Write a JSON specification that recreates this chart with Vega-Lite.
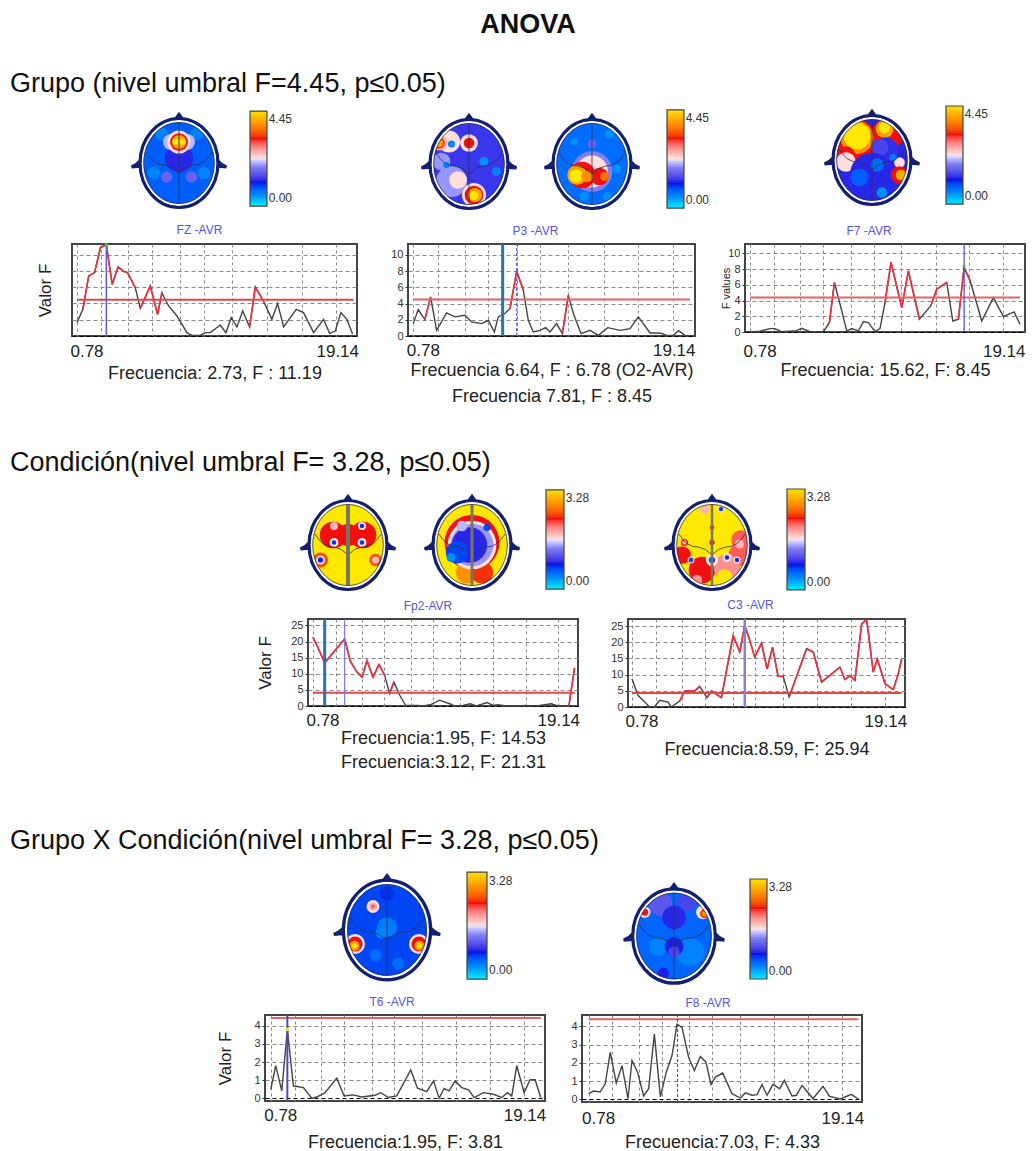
{"$schema":"https://vega.github.io/schema/vega-lite/v6.json","padding":0,"background":"white","spacing":0,
"config":{"font":"Liberation Sans","view":{"stroke":null},"legend":{"disable":true},
"axisX":{"tickSize":0,"domain":false,"labelFontSize":17,"labelColor":"#222","labelPadding":4,"titleFontSize":18,"titleFontWeight":"normal","titleColor":"#222","titlePadding":5,"titleLineHeight":24,"grid":true},
"axisY":{"tickSize":3,"tickColor":"#333","domain":false,"labelFontSize":11,"labelColor":"#333","labelPadding":2,"grid":true,"gridDash":[4,3],"titleFontWeight":"normal","titleColor":"#222","titleFontSize":17},
"title":{"color":"#111"}},
"resolve":{"scale":{"size":"independent","color":"independent"}},
"datasets":{
"p1":[{"hz":0.78,"val":1.64},{"hz":1.17,"val":3.28},{"hz":1.56,"val":7.38},{"hz":1.95,"val":7.79},{"hz":2.34,"val":10.86},{"hz":2.73,"val":11.19},{"hz":3.12,"val":6.35},{"hz":3.51,"val":8.48},{"hz":3.9,"val":7.91},{"hz":4.14,"val":7.79},{"hz":4.65,"val":5.94,"n":1},{"hz":4.98,"val":3.4},{"hz":5.65,"val":6.15},{"hz":6.13,"val":2.66},{"hz":6.42,"val":5.33,"n":1},{"hz":6.86,"val":3.69},{"hz":7.42,"val":2.46},{"hz":8.08,"val":0.41},{"hz":8.41,"val":0.08},{"hz":8.97,"val":0.08},{"hz":9.3,"val":0.41},{"hz":9.63,"val":0.41},{"hz":10.29,"val":1.35},{"hz":10.67,"val":0.41},{"hz":11.02,"val":2.25},{"hz":11.4,"val":1.11},{"hz":11.78,"val":3.07},{"hz":12.24,"val":1.11},{"hz":12.62,"val":6.02},{"hz":13.21,"val":4.1},{"hz":13.72,"val":2.05},{"hz":14.1,"val":3.98},{"hz":14.5,"val":1.11},{"hz":15.34,"val":3.28},{"hz":15.82,"val":2.87},{"hz":16.49,"val":0.41},{"hz":17.15,"val":2.05},{"hz":17.55,"val":0.33},{"hz":17.93,"val":0.61},{"hz":18.3,"val":2.87},{"hz":18.7,"val":2.05},{"hz":19.08,"val":0.2}],
"p2":[{"hz":0.78,"val":1.53},{"hz":1.11,"val":3.26},{"hz":1.55,"val":2.02},{"hz":1.93,"val":4.83,"n":1},{"hz":2.33,"val":0.7},{"hz":2.99,"val":2.85},{"hz":3.55,"val":2.36},{"hz":4.21,"val":2.56},{"hz":4.65,"val":1.74},{"hz":5.32,"val":1.53},{"hz":5.76,"val":1.94},{"hz":6.16,"val":0.5},{"hz":6.42,"val":2.36},{"hz":6.86,"val":2.77},{"hz":7.2,"val":3.39},{"hz":7.64,"val":8.0},{"hz":8.08,"val":5.66,"n":1},{"hz":8.41,"val":1.94},{"hz":8.74,"val":0.5},{"hz":9.19,"val":0.7},{"hz":9.56,"val":1.03},{"hz":9.85,"val":0.5},{"hz":10.29,"val":1.53},{"hz":10.67,"val":0.29},{"hz":11.07,"val":5.04,"n":1},{"hz":11.4,"val":2.77},{"hz":11.91,"val":0.29},{"hz":12.51,"val":0.7},{"hz":13.06,"val":0.08},{"hz":13.68,"val":1.03},{"hz":14.5,"val":0.7},{"hz":15.16,"val":0.91},{"hz":15.71,"val":2.36},{"hz":16.49,"val":0.37},{"hz":17.15,"val":0.37},{"hz":17.59,"val":0.08},{"hz":18.04,"val":0.08},{"hz":18.37,"val":0.66},{"hz":18.81,"val":0.08},{"hz":19.14,"val":0.04}],
"p3":[{"hz":0.78,"val":0},{"hz":1.46,"val":0.09},{"hz":2.14,"val":0.43},{"hz":2.48,"val":0.43},{"hz":2.93,"val":0.04},{"hz":3.95,"val":0.17},{"hz":4.29,"val":0.47},{"hz":4.86,"val":0.04},{"hz":5.77,"val":0.04},{"hz":6.18,"val":1.19},{"hz":6.52,"val":6.3,"n":1},{"hz":7.02,"val":2.68},{"hz":7.36,"val":0.13},{"hz":7.7,"val":0.43},{"hz":8.15,"val":0.13},{"hz":8.49,"val":1.32},{"hz":8.83,"val":1.19},{"hz":9.28,"val":0.04},{"hz":9.62,"val":0.43},{"hz":9.96,"val":3.74},{"hz":10.37,"val":8.85},{"hz":11.1,"val":3.11},{"hz":11.55,"val":7.79},{"hz":12.3,"val":1.62},{"hz":13.07,"val":3.32},{"hz":13.48,"val":5.45},{"hz":14.16,"val":6.3,"n":1},{"hz":14.57,"val":1.4},{"hz":14.95,"val":1.62},{"hz":15.34,"val":8.21},{"hz":15.75,"val":6.51,"n":1},{"hz":16.54,"val":1.4},{"hz":17.33,"val":4.38},{"hz":18.01,"val":1.96},{"hz":18.74,"val":2.55},{"hz":19.14,"val":0.98}],
"p4":[{"hz":0.78,"val":21.3},{"hz":1.13,"val":18.1},{"hz":1.6,"val":13.4},{"hz":3.0,"val":20.8},{"hz":3.4,"val":13.9},{"hz":3.82,"val":10.8},{"hz":4.22,"val":8.9},{"hz":4.57,"val":14.1},{"hz":4.99,"val":8.9},{"hz":5.41,"val":12.9},{"hz":5.81,"val":9.5,"n":1},{"hz":6.16,"val":3.9},{"hz":6.46,"val":7.4,"n":1},{"hz":6.86,"val":3.4,"n":1},{"hz":7.28,"val":0.2},{"hz":8.15,"val":0.2},{"hz":8.5,"val":0},{"hz":9.08,"val":0.5},{"hz":9.67,"val":1.8},{"hz":10.37,"val":0.7},{"hz":10.72,"val":0},{"hz":11.3,"val":0.2},{"hz":11.82,"val":0.7},{"hz":12.24,"val":0},{"hz":12.99,"val":1.05},{"hz":13.41,"val":0.2},{"hz":13.76,"val":0.4},{"hz":14.34,"val":0},{"hz":15.28,"val":0},{"hz":15.63,"val":0.2},{"hz":15.98,"val":0},{"hz":16.68,"val":0.2},{"hz":17.5,"val":0.7},{"hz":17.97,"val":0},{"hz":18.74,"val":0},{"hz":19.14,"val":11.8}],
"p5":[{"hz":0.78,"val":8.74,"n":1},{"hz":1.19,"val":3.6},{"hz":1.53,"val":2.06},{"hz":1.98,"val":0},{"hz":2.33,"val":0.2},{"hz":2.67,"val":2.06},{"hz":3.23,"val":1.54},{"hz":3.46,"val":0},{"hz":4.03,"val":1.85},{"hz":4.37,"val":4.94},{"hz":5.05,"val":4.94},{"hz":5.39,"val":6.38,"n":1},{"hz":5.89,"val":2.88},{"hz":6.19,"val":4.94},{"hz":6.87,"val":2.88},{"hz":7.67,"val":22.1},{"hz":8.12,"val":17},{"hz":8.46,"val":25.2},{"hz":8.8,"val":20.6},{"hz":9.14,"val":15.4},{"hz":9.6,"val":19.75},{"hz":9.98,"val":11.8},{"hz":10.35,"val":18.5},{"hz":10.73,"val":9.47},{"hz":11.08,"val":9.47,"n":1},{"hz":11.48,"val":3.09},{"hz":12.67,"val":18},{"hz":13.12,"val":17},{"hz":13.69,"val":7.7},{"hz":14.94,"val":12.35},{"hz":15.28,"val":8.44},{"hz":15.62,"val":9.77},{"hz":15.96,"val":8.23},{"hz":16.42,"val":25.7},{"hz":16.76,"val":27},{"hz":17.21,"val":10.8},{"hz":17.48,"val":14.9},{"hz":18.01,"val":7.2},{"hz":18.57,"val":5.35},{"hz":18.92,"val":10.3},{"hz":19.14,"val":14.9}],
"p6":[{"hz":0.78,"val":0.5},{"hz":1.12,"val":1.8},{"hz":1.53,"val":0.41},{"hz":1.91,"val":3.81},{"hz":2.32,"val":0.69},{"hz":3.0,"val":0.59},{"hz":3.57,"val":0},{"hz":3.91,"val":0.07},{"hz":4.48,"val":0.31},{"hz":5.27,"val":1.11},{"hz":5.77,"val":0.13},{"hz":6.4,"val":0.19},{"hz":6.97,"val":0.07},{"hz":7.88,"val":0.17},{"hz":8.26,"val":0.31},{"hz":8.78,"val":0.04},{"hz":9.35,"val":0.13},{"hz":10.3,"val":1.56},{"hz":10.76,"val":0.56},{"hz":11.39,"val":0.37},{"hz":11.85,"val":0.96},{"hz":12.23,"val":0},{"hz":12.57,"val":0.54},{"hz":12.91,"val":0.41},{"hz":13.32,"val":0.96},{"hz":13.77,"val":0.59},{"hz":14.23,"val":0.46},{"hz":14.61,"val":0.04},{"hz":15.25,"val":0.31},{"hz":15.93,"val":0.22},{"hz":16.49,"val":0.04},{"hz":16.88,"val":0.31},{"hz":17.17,"val":0.13},{"hz":17.51,"val":1.8},{"hz":18.01,"val":0.31},{"hz":18.42,"val":1.02},{"hz":18.76,"val":1.02},{"hz":19.14,"val":0.04}],
"p7":[{"hz":0.78,"val":0.31},{"hz":1.12,"val":0.45},{"hz":1.57,"val":0.4},{"hz":1.91,"val":0.85},{"hz":2.25,"val":2.58},{"hz":2.66,"val":0.89},{"hz":3.05,"val":1.85},{"hz":3.46,"val":0.04},{"hz":3.73,"val":2.13},{"hz":4.11,"val":1.49},{"hz":4.52,"val":0.18},{"hz":4.86,"val":0.58},{"hz":5.25,"val":3.58},{"hz":5.66,"val":0.13},{"hz":6.06,"val":1.49},{"hz":6.45,"val":2.4},{"hz":6.79,"val":4.13},{"hz":7.13,"val":3.95},{"hz":7.58,"val":2.31},{"hz":7.97,"val":1.58},{"hz":8.38,"val":2.35},{"hz":8.76,"val":2.04},{"hz":9.1,"val":0.82},{"hz":9.4,"val":1.22},{"hz":9.9,"val":1.44},{"hz":10.53,"val":0.31},{"hz":11.1,"val":0.07},{"hz":11.44,"val":0.35},{"hz":11.89,"val":0.22},{"hz":12.23,"val":0.25},{"hz":12.57,"val":0.8},{"hz":12.91,"val":0.22},{"hz":13.32,"val":0.82},{"hz":13.77,"val":0.58},{"hz":14.09,"val":1.04},{"hz":14.61,"val":0.18},{"hz":14.91,"val":0.22},{"hz":15.29,"val":0.76},{"hz":16.04,"val":0.04},{"hz":16.72,"val":0.71},{"hz":17.17,"val":0.16},{"hz":17.9,"val":0.02},{"hz":18.65,"val":0.27},{"hz":19.14,"val":0}],
"bar":[{"a":0,"b":0.03},{"a":0.02,"b":0.05},{"a":0.04,"b":0.07},{"a":0.06,"b":0.09},{"a":0.08,"b":0.11},{"a":0.1,"b":0.13},{"a":0.12,"b":0.15},{"a":0.14,"b":0.17},{"a":0.16,"b":0.19},{"a":0.18,"b":0.21},{"a":0.2,"b":0.23},{"a":0.22,"b":0.25},{"a":0.24,"b":0.27},{"a":0.26,"b":0.29},{"a":0.28,"b":0.31},{"a":0.3,"b":0.33},{"a":0.32,"b":0.35},{"a":0.34,"b":0.37},{"a":0.36,"b":0.39},{"a":0.38,"b":0.41},{"a":0.4,"b":0.43},{"a":0.42,"b":0.45},{"a":0.44,"b":0.47},{"a":0.46,"b":0.49},{"a":0.48,"b":0.51},{"a":0.5,"b":0.53},{"a":0.52,"b":0.55},{"a":0.54,"b":0.57},{"a":0.56,"b":0.59},{"a":0.58,"b":0.61},{"a":0.6,"b":0.63},{"a":0.62,"b":0.65},{"a":0.64,"b":0.67},{"a":0.66,"b":0.69},{"a":0.68,"b":0.71},{"a":0.7,"b":0.73},{"a":0.72,"b":0.75},{"a":0.74,"b":0.77},{"a":0.76,"b":0.79},{"a":0.78,"b":0.81},{"a":0.8,"b":0.83},{"a":0.82,"b":0.85},{"a":0.84,"b":0.87},{"a":0.86,"b":0.89},{"a":0.88,"b":0.91},{"a":0.9,"b":0.93},{"a":0.92,"b":0.95},{"a":0.94,"b":0.97},{"a":0.96,"b":0.99},{"a":0.98,"b":1}],
"head":[{"x":0,"y":0}],
"m1":[{"x":0,"y":0,"r":1,"v":0.17},{"x":0,"y":-0.1,"r":0.32,"v":0.26},{"x":-0.35,"y":-0.58,"r":0.14,"v":0.12},{"x":0.35,"y":-0.58,"r":0.14,"v":0.12},{"x":-0.5,"y":0.2,"r":0.14,"v":0.12},{"x":0.5,"y":0.2,"r":0.14,"v":0.12},{"x":-0.25,"y":0.28,"r":0.13,"v":0.35},{"x":0.25,"y":0.28,"r":0.13,"v":0.35},{"x":-0.16,"y":-0.42,"r":0.18,"v":0.45},{"x":0.16,"y":-0.42,"r":0.18,"v":0.45},{"x":0,"y":-0.42,"r":0.26,"v":0.5},{"x":0,"y":-0.42,"r":0.2,"v":0.7},{"x":0,"y":-0.42,"r":0.16,"v":0.88},{"x":-0.07,"y":-0.43,"r":0.07,"v":1},{"x":0.07,"y":-0.43,"r":0.07,"v":1}],
"m2":[{"x":0,"y":0,"r":1,"v":0.28},{"x":-0.35,"y":0.35,"r":0.35,"v":0.42},{"x":-0.22,"y":0.32,"r":0.2,"v":0.5},{"x":-0.55,"y":-0.05,"r":0.2,"v":0.42},{"x":-0.4,"y":-0.45,"r":0.25,"v":0.5},{"x":-0.58,"y":-0.42,"r":0.17,"v":0.56},{"x":-0.6,"y":-0.42,"r":0.13,"v":0.72},{"x":-0.6,"y":-0.42,"r":0.09,"v":0.88},{"x":-0.35,"y":-0.4,"r":0.08,"v":0.12},{"x":0,"y":-0.42,"r":0.2,"v":0.5},{"x":0,"y":-0.42,"r":0.12,"v":0.7},{"x":0.3,"y":-0.05,"r":0.1,"v":0.1},{"x":0.55,"y":0.15,"r":0.1,"v":0.12},{"x":-0.45,"y":0.02,"r":0.07,"v":0.12},{"x":0.1,"y":0.62,"r":0.27,"v":0.5},{"x":0.1,"y":0.62,"r":0.21,"v":0.7},{"x":0.12,"y":0.62,"r":0.16,"v":0.88},{"x":0.1,"y":0.63,"r":0.1,"v":1}],
"m3":[{"x":0,"y":0,"r":1,"v":0.15},{"x":0,"y":0.15,"r":0.46,"v":0.4},{"x":0,"y":0.15,"r":0.36,"v":0.5},{"x":-0.2,"y":0.22,"r":0.3,"v":0.7},{"x":0.15,"y":0.25,"r":0.2,"v":0.7},{"x":-0.3,"y":0.22,"r":0.22,"v":0.88},{"x":-0.32,"y":0.24,"r":0.15,"v":1},{"x":-0.1,"y":0.25,"r":0.13,"v":0.85},{"x":0.25,"y":0.25,"r":0.1,"v":0.8},{"x":-0.35,"y":-0.45,"r":0.08,"v":0.1},{"x":0.3,"y":0.65,"r":0.1,"v":0.1},{"x":-0.15,"y":0.65,"r":0.1,"v":0.1},{"x":0.5,"y":0.1,"r":0.1,"v":0.1},{"x":0,"y":-0.4,"r":0.1,"v":0.35},{"x":0.35,"y":-0.6,"r":0.1,"v":0.1}],
"m4":[{"x":0,"y":0,"r":1,"v":0.26},{"x":-0.3,"y":-0.4,"r":0.46,"v":0.7},{"x":0.3,"y":-0.5,"r":0.36,"v":0.7},{"x":-0.3,"y":-0.45,"r":0.37,"v":0.85},{"x":-0.3,"y":-0.48,"r":0.3,"v":1},{"x":0.25,"y":-0.62,"r":0.2,"v":0.88},{"x":0.25,"y":-0.65,"r":0.13,"v":1},{"x":-0.52,"y":-0.1,"r":0.2,"v":0.7},{"x":-0.52,"y":0.04,"r":0.22,"v":0.5},{"x":0.28,"y":-0.2,"r":0.28,"v":0.27},{"x":0.15,"y":-0.25,"r":0.2,"v":0.3},{"x":0,"y":0.3,"r":0.5,"v":0.26},{"x":-0.25,"y":0.35,"r":0.2,"v":0.17},{"x":0.1,"y":0.1,"r":0.15,"v":0.15},{"x":0.2,"y":0.65,"r":0.12,"v":0.1},{"x":0.55,"y":0.05,"r":0.12,"v":0.5},{"x":0.55,"y":0.3,"r":0.2,"v":0.7},{"x":0.58,"y":0.3,"r":0.12,"v":0.9},{"x":0.42,"y":-0.05,"r":0.08,"v":0.13}],
"m5":[{"x":0,"y":0,"r":1,"v":1},{"x":-0.3,"y":-0.2,"r":0.3,"v":0.7},{"x":0.3,"y":-0.2,"r":0.3,"v":0.7},{"x":0,"y":-0.2,"r":0.25,"v":0.7},{"x":-0.28,"y":-0.38,"r":0.09,"v":0.55},{"x":0.28,"y":-0.38,"r":0.09,"v":0.5},{"x":0.28,"y":-0.38,"r":0.05,"v":0.22},{"x":-0.28,"y":-0.05,"r":0.1,"v":0.5},{"x":-0.28,"y":-0.05,"r":0.05,"v":0.22},{"x":0.28,"y":-0.05,"r":0.1,"v":0.5},{"x":0.28,"y":-0.05,"r":0.05,"v":0.22},{"x":-0.55,"y":0.3,"r":0.17,"v":0.75},{"x":-0.55,"y":0.3,"r":0.1,"v":0.5},{"x":-0.55,"y":0.3,"r":0.06,"v":0.22},{"x":0.55,"y":0.3,"r":0.14,"v":0.75},{"x":0.55,"y":0.3,"r":0.08,"v":0.55}],
"m6":[{"x":0,"y":0,"r":1,"v":1},{"x":0,"y":-0.05,"r":0.62,"v":0.7},{"x":-0.1,"y":0.55,"r":0.25,"v":0.85},{"x":0.2,"y":0.55,"r":0.25,"v":0.72},{"x":0,"y":0,"r":0.55,"v":0.5},{"x":0,"y":0,"r":0.48,"v":0.42},{"x":-0.05,"y":0,"r":0.4,"v":0.26},{"x":-0.3,"y":0.15,"r":0.25,"v":0.2},{"x":-0.42,"y":0.25,"r":0.1,"v":0.1},{"x":0.3,"y":-0.35,"r":0.08,"v":0.2},{"x":-0.2,"y":-0.38,"r":0.12,"v":0.45}],
"m7":[{"x":0,"y":0,"r":1,"v":1},{"x":0.58,"y":-0.1,"r":0.22,"v":0.65},{"x":0.55,"y":0.2,"r":0.25,"v":0.65},{"x":-0.6,"y":0.2,"r":0.2,"v":0.7},{"x":-0.2,"y":0.5,"r":0.3,"v":0.7},{"x":0.3,"y":0.45,"r":0.3,"v":0.6},{"x":0.25,"y":0.65,"r":0.18,"v":1},{"x":-0.3,"y":0.7,"r":0.12,"v":0.6},{"x":-0.42,"y":0.3,"r":0.08,"v":0.55},{"x":-0.42,"y":0.3,"r":0.05,"v":0.2},{"x":0,"y":0.3,"r":0.14,"v":0.5},{"x":0,"y":0.3,"r":0.07,"v":0.2},{"x":0.3,"y":0.25,"r":0.1,"v":0.5},{"x":0.3,"y":0.25,"r":0.05,"v":0.22},{"x":0.5,"y":0.3,"r":0.08,"v":0.5},{"x":0.5,"y":0.3,"r":0.05,"v":0.22},{"x":-0.15,"y":-0.72,"r":0.1,"v":0.55},{"x":0.18,"y":-0.72,"r":0.08,"v":0.5},{"x":0.18,"y":-0.72,"r":0.05,"v":0.2},{"x":0,"y":-0.35,"r":0.05,"v":0.7},{"x":0,"y":-0.05,"r":0.06,"v":0.7},{"x":-0.55,"y":-0.05,"r":0.08,"v":0.7},{"x":-0.55,"y":-0.05,"r":0.05,"v":0.55},{"x":0.55,"y":-0.02,"r":0.1,"v":0.55}],
"m8":[{"x":0,"y":0,"r":1,"v":0.2},{"x":-0.25,"y":-0.42,"r":0.13,"v":0.5},{"x":-0.25,"y":-0.42,"r":0.08,"v":0.56},{"x":-0.25,"y":-0.42,"r":0.04,"v":0.65},{"x":0,"y":-0.05,"r":0.2,"v":0.13},{"x":-0.1,"y":0.05,"r":0.12,"v":0.12},{"x":0,"y":-0.65,"r":0.15,"v":0.22},{"x":0.2,"y":0.6,"r":0.12,"v":0.15},{"x":-0.2,"y":0.45,"r":0.12,"v":0.15},{"x":-0.57,"y":0.25,"r":0.2,"v":0.5},{"x":-0.57,"y":0.25,"r":0.15,"v":0.7},{"x":-0.58,"y":0.28,"r":0.1,"v":0.88},{"x":-0.58,"y":0.28,"r":0.05,"v":1},{"x":0.57,"y":0.25,"r":0.2,"v":0.5},{"x":0.57,"y":0.25,"r":0.15,"v":0.7},{"x":0.58,"y":0.28,"r":0.1,"v":0.88},{"x":0.58,"y":0.28,"r":0.05,"v":1}],
"m9":[{"x":0,"y":0,"r":1,"v":0.16},{"x":-0.25,"y":-0.6,"r":0.25,"v":0.33},{"x":0.25,"y":-0.65,"r":0.2,"v":0.3},{"x":-0.55,"y":-0.45,"r":0.12,"v":0.5},{"x":-0.55,"y":-0.45,"r":0.07,"v":0.7},{"x":0.55,"y":-0.45,"r":0.15,"v":0.5},{"x":0.58,"y":-0.42,"r":0.1,"v":0.72},{"x":0.58,"y":-0.42,"r":0.06,"v":0.88},{"x":0,"y":-0.35,"r":0.25,"v":0.26},{"x":0.3,"y":0.3,"r":0.3,"v":0.12},{"x":-0.3,"y":0.2,"r":0.2,"v":0.12},{"x":0,"y":0.2,"r":0.2,"v":0.25},{"x":0,"y":0.3,"r":0.12,"v":0.3},{"x":-0.2,"y":0.7,"r":0.12,"v":0.25}]
},
"vconcat":[
{"width":1,"height":11,"data":{"values":[{}]},"mark":{"type":"point","opacity":0,"size":0},"encoding":{}},
{"width":1036,"height":1,"title":{"text":"ANOVA","anchor":"middle","fontSize":27,"fontWeight":"bold","offset":0,"dx":10},"data":{"values":[{}]},"mark":{"type":"point","opacity":0,"size":0},"encoding":{}},
{"width":1,"height":30,"data":{"values":[{}]},"mark":{"type":"point","opacity":0,"size":0},"encoding":{}},
{"width":1030,"height":1,"title":{"text":"Grupo (nivel umbral F=4.45, p≤0.05)","anchor":"start","fontSize":27,"fontWeight":"normal","dx":10,"offset":0},"data":{"values":[{}]},"mark":{"type":"point","opacity":0,"size":0},"encoding":{}},
{"width":1,"height":6,"data":{"values":[{}]},"mark":{"type":"point","opacity":0,"size":0},"encoding":{}},
{"hconcat":[
{"width":129,"height":1,"data":{"values":[{}]},"mark":{"type":"point","opacity":0,"size":0},"encoding":{}},
{"width":100,"height":110,"encoding":{"x":{"field":"x","type":"quantitative","scale":{"domain":[-1,1]},"axis":null},"y":{"field":"y","type":"quantitative","scale":{"domain":[1.06,-1.14]},"axis":null}},"layer":[
{"data":{"name":"m1"},"mark":{"type":"point","filled":true,"opacity":1,"clip":true},"encoding":{"size":{"field":"r","type":"quantitative","scale":{"type":"pow","exponent":2,"domain":[0,1],"range":[0,7854]}},"color":{"field":"v","type":"quantitative","scale":{"domain":[0,0.1,0.24,0.4,0.5,0.6,0.7,0.85,1],"range":["#00e5ff","#0090ff","#0a14e6","#8080f0","#ffffff","#ff9090","#f01010","#ff9000","#ffe800"]}}}},
{"data":{"name":"head"},"mark":{"type":"point","shape":"M-1.3,-1.3H1.3V1.3H-1.3ZM0,-0.89A0.78,0.89,0,0,0,0,0.89A0.78,0.89,0,0,0,0,-0.89Z","filled":true,"color":"#ffffff","opacity":1,"size":10000,"clip":true}},
{"data":{"name":"head"},"mark":{"type":"point","shape":"M0,-0.84A0.735,0.84,0,0,1,0,0.84A0.735,0.84,0,0,1,0,-0.84Z","filled":false,"color":"#ffffff","strokeWidth":2.5,"opacity":1,"size":10000}},
{"data":{"name":"head"},"mark":{"type":"point","shape":"M0,-0.81A0.705,0.81,0,0,1,0,0.81A0.705,0.81,0,0,1,0,-0.81ZM0,-0.81V0.81M-0.66,-0.22Q-0.5,0.05,-0.28,0.04Q-0.12,0.06,0,0.2Q0.12,0.06,0.28,0.04Q0.5,0.05,0.66,-0.22","filled":false,"color":"#2a3050","strokeWidth":0.8,"opacity":1,"size":10000}},
{"data":{"name":"head"},"mark":{"type":"point","shape":"M0,-0.89A0.78,0.89,0,0,1,0,0.89A0.78,0.89,0,0,1,0,-0.89ZM-0.06,-0.89L0,-0.97L0.06,-0.89M-0.76,-0.06Q-0.84,0.04,-0.95,0.08Q-0.84,0.07,-0.75,0.06M0.76,-0.06Q0.84,0.04,0.95,0.08Q0.84,0.07,0.75,0.06","filled":false,"color":"#14206e","strokeWidth":3.2,"opacity":1,"size":10000}}
]},
{"width":21,"height":1,"data":{"values":[{}]},"mark":{"type":"point","opacity":0,"size":0},"encoding":{}},
{"width":45,"height":110,"encoding":{"y":{"field":"a","type":"quantitative","scale":{"domain":[-0.105,1.053]},"axis":null},"x":{"datum":0,"type":"quantitative","scale":{"domain":[0,2.65]},"axis":null}},"layer":[
{"data":{"name":"bar"},"mark":{"type":"rect"},"encoding":{"x2":{"datum":1},"y2":{"field":"b"},"color":{"field":"a","type":"quantitative","scale":{"domain":[0,0.1,0.24,0.4,0.5,0.6,0.7,0.85,1],"range":["#00e5ff","#0090ff","#0a14e6","#8080f0","#ffffff","#ff9090","#f01010","#ff9000","#ffe800"]}}}},
{"data":{"values":[{"a":0,"b":1}]},"mark":{"type":"rect","filled":false,"stroke":"#444","strokeWidth":1.2},"encoding":{"x2":{"datum":1},"y2":{"field":"b"}}},
{"data":{"values":[{"lab":"4.45","a":0.92},{"lab":"0.00","a":0.08}]},"mark":{"type":"text","align":"left","baseline":"middle","fontSize":12,"color":"#333"},"encoding":{"x":{"datum":1.1,"type":"quantitative"},"text":{"field":"lab"}}}
]},
{"width":124,"height":1,"data":{"values":[{}]},"mark":{"type":"point","opacity":0,"size":0},"encoding":{}},
{"width":100,"height":110,"encoding":{"x":{"field":"x","type":"quantitative","scale":{"domain":[-1,1]},"axis":null},"y":{"field":"y","type":"quantitative","scale":{"domain":[1.04,-1.16]},"axis":null}},"layer":[
{"data":{"name":"m2"},"mark":{"type":"point","filled":true,"opacity":1,"clip":true},"encoding":{"size":{"field":"r","type":"quantitative","scale":{"type":"pow","exponent":2,"domain":[0,1],"range":[0,7854]}},"color":{"field":"v","type":"quantitative","scale":{"domain":[0,0.1,0.24,0.4,0.5,0.6,0.7,0.85,1],"range":["#00e5ff","#0090ff","#0a14e6","#8080f0","#ffffff","#ff9090","#f01010","#ff9000","#ffe800"]}}}},
{"data":{"name":"head"},"mark":{"type":"point","shape":"M-1.3,-1.3H1.3V1.3H-1.3ZM0,-0.89A0.78,0.89,0,0,0,0,0.89A0.78,0.89,0,0,0,0,-0.89Z","filled":true,"color":"#ffffff","opacity":1,"size":10000,"clip":true}},
{"data":{"name":"head"},"mark":{"type":"point","shape":"M0,-0.84A0.735,0.84,0,0,1,0,0.84A0.735,0.84,0,0,1,0,-0.84Z","filled":false,"color":"#ffffff","strokeWidth":2.5,"opacity":1,"size":10000}},
{"data":{"name":"head"},"mark":{"type":"point","shape":"M0,-0.81A0.705,0.81,0,0,1,0,0.81A0.705,0.81,0,0,1,0,-0.81ZM0,-0.81V0.81M-0.66,-0.22Q-0.5,0.05,-0.28,0.04Q-0.12,0.06,0,0.2Q0.12,0.06,0.28,0.04Q0.5,0.05,0.66,-0.22","filled":false,"color":"#2a3050","strokeWidth":0.8,"opacity":1,"size":10000}},
{"data":{"name":"head"},"mark":{"type":"point","shape":"M0,-0.89A0.78,0.89,0,0,1,0,0.89A0.78,0.89,0,0,1,0,-0.89ZM-0.06,-0.89L0,-0.97L0.06,-0.89M-0.76,-0.06Q-0.84,0.04,-0.95,0.08Q-0.84,0.07,-0.75,0.06M0.76,-0.06Q0.84,0.04,0.95,0.08Q0.84,0.07,0.75,0.06","filled":false,"color":"#14206e","strokeWidth":3.2,"opacity":1,"size":10000}}
]},
{"width":23,"height":1,"data":{"values":[{}]},"mark":{"type":"point","opacity":0,"size":0},"encoding":{}},
{"width":100,"height":110,"encoding":{"x":{"field":"x","type":"quantitative","scale":{"domain":[-1,1]},"axis":null},"y":{"field":"y","type":"quantitative","scale":{"domain":[1.04,-1.16]},"axis":null}},"layer":[
{"data":{"name":"m3"},"mark":{"type":"point","filled":true,"opacity":1,"clip":true},"encoding":{"size":{"field":"r","type":"quantitative","scale":{"type":"pow","exponent":2,"domain":[0,1],"range":[0,7854]}},"color":{"field":"v","type":"quantitative","scale":{"domain":[0,0.1,0.24,0.4,0.5,0.6,0.7,0.85,1],"range":["#00e5ff","#0090ff","#0a14e6","#8080f0","#ffffff","#ff9090","#f01010","#ff9000","#ffe800"]}}}},
{"data":{"name":"head"},"mark":{"type":"point","shape":"M-1.3,-1.3H1.3V1.3H-1.3ZM0,-0.89A0.78,0.89,0,0,0,0,0.89A0.78,0.89,0,0,0,0,-0.89Z","filled":true,"color":"#ffffff","opacity":1,"size":10000,"clip":true}},
{"data":{"name":"head"},"mark":{"type":"point","shape":"M0,-0.84A0.735,0.84,0,0,1,0,0.84A0.735,0.84,0,0,1,0,-0.84Z","filled":false,"color":"#ffffff","strokeWidth":2.5,"opacity":1,"size":10000}},
{"data":{"name":"head"},"mark":{"type":"point","shape":"M0,-0.81A0.705,0.81,0,0,1,0,0.81A0.705,0.81,0,0,1,0,-0.81ZM0,-0.81V0.81M-0.66,-0.22Q-0.5,0.05,-0.28,0.04Q-0.12,0.06,0,0.2Q0.12,0.06,0.28,0.04Q0.5,0.05,0.66,-0.22","filled":false,"color":"#2a3050","strokeWidth":0.8,"opacity":1,"size":10000}},
{"data":{"name":"head"},"mark":{"type":"point","shape":"M0,-0.89A0.78,0.89,0,0,1,0,0.89A0.78,0.89,0,0,1,0,-0.89ZM-0.06,-0.89L0,-0.97L0.06,-0.89M-0.76,-0.06Q-0.84,0.04,-0.95,0.08Q-0.84,0.07,-0.75,0.06M0.76,-0.06Q0.84,0.04,0.95,0.08Q0.84,0.07,0.75,0.06","filled":false,"color":"#14206e","strokeWidth":3.2,"opacity":1,"size":10000}}
]},
{"width":25,"height":1,"data":{"values":[{}]},"mark":{"type":"point","opacity":0,"size":0},"encoding":{}},
{"width":45,"height":110,"encoding":{"y":{"field":"a","type":"quantitative","scale":{"domain":[-0.08,1.04]},"axis":null},"x":{"datum":0,"type":"quantitative","scale":{"domain":[0,2.65]},"axis":null}},"layer":[
{"data":{"name":"bar"},"mark":{"type":"rect"},"encoding":{"x2":{"datum":1},"y2":{"field":"b"},"color":{"field":"a","type":"quantitative","scale":{"domain":[0,0.1,0.24,0.4,0.5,0.6,0.7,0.85,1],"range":["#00e5ff","#0090ff","#0a14e6","#8080f0","#ffffff","#ff9090","#f01010","#ff9000","#ffe800"]}}}},
{"data":{"values":[{"a":0,"b":1}]},"mark":{"type":"rect","filled":false,"stroke":"#444","strokeWidth":1.2},"encoding":{"x2":{"datum":1},"y2":{"field":"b"}}},
{"data":{"values":[{"lab":"4.45","a":0.92},{"lab":"0.00","a":0.08}]},"mark":{"type":"text","align":"left","baseline":"middle","fontSize":12,"color":"#333"},"encoding":{"x":{"datum":1.1,"type":"quantitative"},"text":{"field":"lab"}}}
]},
{"width":110,"height":1,"data":{"values":[{}]},"mark":{"type":"point","opacity":0,"size":0},"encoding":{}},
{"width":100,"height":110,"encoding":{"x":{"field":"x","type":"quantitative","scale":{"domain":[-1,1]},"axis":null},"y":{"field":"y","type":"quantitative","scale":{"domain":[1.12,-1.08]},"axis":null}},"layer":[
{"data":{"name":"m4"},"mark":{"type":"point","filled":true,"opacity":1,"clip":true},"encoding":{"size":{"field":"r","type":"quantitative","scale":{"type":"pow","exponent":2,"domain":[0,1],"range":[0,7854]}},"color":{"field":"v","type":"quantitative","scale":{"domain":[0,0.1,0.24,0.4,0.5,0.6,0.7,0.85,1],"range":["#00e5ff","#0090ff","#0a14e6","#8080f0","#ffffff","#ff9090","#f01010","#ff9000","#ffe800"]}}}},
{"data":{"name":"head"},"mark":{"type":"point","shape":"M-1.3,-1.3H1.3V1.3H-1.3ZM0,-0.89A0.78,0.89,0,0,0,0,0.89A0.78,0.89,0,0,0,0,-0.89Z","filled":true,"color":"#ffffff","opacity":1,"size":10000,"clip":true}},
{"data":{"name":"head"},"mark":{"type":"point","shape":"M0,-0.84A0.735,0.84,0,0,1,0,0.84A0.735,0.84,0,0,1,0,-0.84Z","filled":false,"color":"#ffffff","strokeWidth":2.5,"opacity":1,"size":10000}},
{"data":{"name":"head"},"mark":{"type":"point","shape":"M0,-0.81A0.705,0.81,0,0,1,0,0.81A0.705,0.81,0,0,1,0,-0.81ZM0,-0.81V0.81M-0.66,-0.22Q-0.5,0.05,-0.28,0.04Q-0.12,0.06,0,0.2Q0.12,0.06,0.28,0.04Q0.5,0.05,0.66,-0.22","filled":false,"color":"#2a3050","strokeWidth":0.8,"opacity":1,"size":10000}},
{"data":{"name":"head"},"mark":{"type":"point","shape":"M0,-0.89A0.78,0.89,0,0,1,0,0.89A0.78,0.89,0,0,1,0,-0.89ZM-0.06,-0.89L0,-0.97L0.06,-0.89M-0.76,-0.06Q-0.84,0.04,-0.95,0.08Q-0.84,0.07,-0.75,0.06M0.76,-0.06Q0.84,0.04,0.95,0.08Q0.84,0.07,0.75,0.06","filled":false,"color":"#14206e","strokeWidth":3.2,"opacity":1,"size":10000}}
]},
{"width":24,"height":1,"data":{"values":[{}]},"mark":{"type":"point","opacity":0,"size":0},"encoding":{}},
{"width":45,"height":110,"encoding":{"y":{"field":"a","type":"quantitative","scale":{"domain":[-0.12,1]},"axis":null},"x":{"datum":0,"type":"quantitative","scale":{"domain":[0,2.65]},"axis":null}},"layer":[
{"data":{"name":"bar"},"mark":{"type":"rect"},"encoding":{"x2":{"datum":1},"y2":{"field":"b"},"color":{"field":"a","type":"quantitative","scale":{"domain":[0,0.1,0.24,0.4,0.5,0.6,0.7,0.85,1],"range":["#00e5ff","#0090ff","#0a14e6","#8080f0","#ffffff","#ff9090","#f01010","#ff9000","#ffe800"]}}}},
{"data":{"values":[{"a":0,"b":1}]},"mark":{"type":"rect","filled":false,"stroke":"#444","strokeWidth":1.2},"encoding":{"x2":{"datum":1},"y2":{"field":"b"}}},
{"data":{"values":[{"lab":"4.45","a":0.92},{"lab":"0.00","a":0.08}]},"mark":{"type":"text","align":"left","baseline":"middle","fontSize":12,"color":"#333"},"encoding":{"x":{"datum":1.1,"type":"quantitative"},"text":{"field":"lab"}}}
]}
],"spacing":0,"bounds":"flush","resolve":{"scale":{"size":"independent","color":"independent"}}},
{"width":1,"height":7,"data":{"values":[{}]},"mark":{"type":"point","opacity":0,"size":0},"encoding":{}},
{"hconcat":[
{"width":72,"height":1,"data":{"values":[{}]},"mark":{"type":"point","opacity":0,"size":0},"encoding":{}},
{"width":285,"height":92,"view":{"stroke":"#444","strokeWidth":2},"title":{"text":"FZ -AVR","fontSize":12,"fontWeight":"normal","color":"#5555dd","dx":-15,"offset":5},"data":{"name":"p1"},"encoding":{"x":{"field":"hz","type":"quantitative","scale":{"domain":[0.45,19.37],"nice":false,"zero":false},"axis":{"title":"Frecuencia: 2.73, F : 11.19","values":[0.78,2.4,4.2,5.76,7.64,9.19,11.07,13.4,15.7,18,19.14],"labelExpr":"datum.value==0.78?'0.78':datum.value==19.14?'19.14':''","gridDash":[3,3],"gridColor":"#888","gridOpacity":{"condition":{"test":"datum.value>19","value":0},"value":1},"labelAlign":{"condition":{"test":"datum.value<5","value":"left"},"value":"right"},"labelOffset":{"condition":{"test":"datum.value<5","value":-7},"value":5},"labelPadding":7,"titlePadding":5}},"y":{"field":"val","type":"quantitative","scale":{"domain":[0,11.3],"nice":false,"zero":false},"axis":{"title":"Valor F","values":[0,2,4,6,8,10],"labels":false,"tickSize":0,"titlePadding":17,"gridColor":{"condition":{"test":"datum.value==0","value":"#000"},"value":"#888"}}}},"layer":[
{"mark":{"type":"line","color":"#444","strokeWidth":1.4}},
{"transform":[{"window":[{"op":"lead","field":"hz","as":"hz2"},{"op":"lead","field":"val","as":"val2"}],"sort":[{"field":"hz","order":"ascending"}]},{"filter":"datum.hz2!=null&&!datum.n&&(datum.val>=4.45||datum.val2>=4.45)"}],"mark":{"type":"rule","color":"#f03040","strokeWidth":1.6},"encoding":{"x2":{"field":"hz2"},"y2":{"field":"val2"}}},
{"data":{"values":[{"hz":0.78,"to":19.14,"val":4.45}]},"mark":{"type":"rule","color":"#e04848","strokeWidth":2},"encoding":{"x2":{"field":"to"}}},
{"data":{"values":[{"hz":2.73,"val":0,"top":11.3}]},"mark":{"type":"rule","color":"#5a5ad6","strokeWidth":1.5},"encoding":{"y2":{"field":"top"}}},
{"data":{"values":[{"hz":2.73,"val":11.19}]},"mark":{"type":"point","filled":true,"color":"#3fbf3f","opacity":1,"size":14}}
]},
{"width":51,"height":1,"data":{"values":[{}]},"mark":{"type":"point","opacity":0,"size":0},"encoding":{}},
{"width":287,"height":92,"view":{"stroke":"#444","strokeWidth":2},"title":{"text":"P3 -AVR","fontSize":12,"fontWeight":"normal","color":"#5555dd","dx":-16,"offset":5},"data":{"name":"p2"},"encoding":{"x":{"field":"hz","type":"quantitative","scale":{"domain":[0.43,19.47],"nice":false,"zero":false},"axis":{"title":["Frecuencia 6.64, F : 6.78 (O2-AVR)","Frecuencia 7.81, F : 8.45"],"titleLineHeight":26,"values":[0.78,2.4,4.2,5.76,7.64,9.19,11.07,13.4,15.7,18,19.14],"labelExpr":"datum.value==0.78?'0.78':datum.value==19.14?'19.14':''","gridDash":[3,3],"gridColor":"#888","gridOpacity":{"condition":{"test":"datum.value>19","value":0},"value":1},"labelAlign":{"condition":{"test":"datum.value<5","value":"left"},"value":"right"},"labelOffset":{"condition":{"test":"datum.value<5","value":-7},"value":5},"labelPadding":6,"titlePadding":3}},"y":{"field":"val","type":"quantitative","scale":{"domain":[0,11.35],"nice":false,"zero":false},"axis":{"title":null,"values":[0,2,4,6,8,10],"gridColor":{"condition":{"test":"datum.value==0","value":"#000"},"value":"#888"}}}},"layer":[
{"mark":{"type":"line","color":"#444","strokeWidth":1.4}},
{"transform":[{"window":[{"op":"lead","field":"hz","as":"hz2"},{"op":"lead","field":"val","as":"val2"}],"sort":[{"field":"hz","order":"ascending"}]},{"filter":"datum.hz2!=null&&!datum.n&&(datum.val>=4.45||datum.val2>=4.45)"}],"mark":{"type":"rule","color":"#f03040","strokeWidth":1.6},"encoding":{"x2":{"field":"hz2"},"y2":{"field":"val2"}}},
{"data":{"values":[{"hz":0.78,"to":19.14,"val":4.5}]},"mark":{"type":"rule","color":"#e86060","strokeWidth":2},"encoding":{"x2":{"field":"to"}}},
{"data":{"values":[{"hz":6.71,"val":0,"top":11.35}]},"mark":{"type":"rule","color":"#2e6fb5","strokeWidth":3},"encoding":{"y2":{"field":"top"}}},
{"data":{"values":[{"hz":7.64,"val":0,"top":11.35}]},"mark":{"type":"rule","color":"#5a5ad6","strokeWidth":1.2,"strokeDash":[3,2]},"encoding":{"y2":{"field":"top"}}}
]},
{"width":50,"height":1,"data":{"values":[{}]},"mark":{"type":"point","opacity":0,"size":0},"encoding":{}},
{"width":280,"height":88,"view":{"stroke":"#444","strokeWidth":2},"title":{"text":"F7 -AVR","fontSize":12,"fontWeight":"normal","color":"#5555dd","dx":-16,"offset":5},"data":{"name":"p3"},"encoding":{"x":{"field":"hz","type":"quantitative","scale":{"domain":[0.44,19.48],"nice":false,"zero":false},"axis":{"title":"Frecuencia: 15.62, F: 8.45","values":[0.78,2.4,4.2,5.76,7.64,9.19,11.07,13.4,15.7,18,19.14],"labelExpr":"datum.value==0.78?'0.78':datum.value==19.14?'19.14':''","gridDash":[3,3],"gridColor":"#888","gridOpacity":{"condition":{"test":"datum.value>19","value":0},"value":1},"labelAlign":{"condition":{"test":"datum.value<5","value":"left"},"value":"right"},"labelOffset":{"condition":{"test":"datum.value<5","value":-7},"value":5},"labelPadding":11,"titlePadding":2}},"y":{"field":"val","type":"quantitative","scale":{"domain":[0,11.2],"nice":false,"zero":false},"axis":{"title":"F values","titleFontSize":11,"titlePadding":-4,"values":[0,2,4,6,8,10],"gridColor":{"condition":{"test":"datum.value==0","value":"#000"},"value":"#888"}}}},"layer":[
{"mark":{"type":"line","color":"#444","strokeWidth":1.4}},
{"transform":[{"window":[{"op":"lead","field":"hz","as":"hz2"},{"op":"lead","field":"val","as":"val2"}],"sort":[{"field":"hz","order":"ascending"}]},{"filter":"datum.hz2!=null&&!datum.n&&(datum.val>=4.45||datum.val2>=4.45)"}],"mark":{"type":"rule","color":"#f03040","strokeWidth":1.6},"encoding":{"x2":{"field":"hz2"},"y2":{"field":"val2"}}},
{"data":{"values":[{"hz":0.78,"to":19.14,"val":4.4}]},"mark":{"type":"rule","color":"#e86060","strokeWidth":2},"encoding":{"x2":{"field":"to"}}},
{"data":{"values":[{"hz":15.34,"val":0,"top":11.2}]},"mark":{"type":"rule","color":"#4a4ad6","strokeWidth":1.2},"encoding":{"y2":{"field":"top"}}},
{"data":{"values":[{"hz":15.34,"val":8.4}]},"mark":{"type":"point","filled":true,"color":"#3fbf3f","opacity":1,"size":10}}
]}
],"spacing":0,"bounds":"flush"},
{"width":1,"height":43,"data":{"values":[{}]},"mark":{"type":"point","opacity":0,"size":0},"encoding":{}},
{"width":1030,"height":1,"title":{"text":"Condición(nivel umbral F= 3.28, p≤0.05)","anchor":"start","fontSize":27,"fontWeight":"normal","dx":10,"offset":0},"data":{"values":[{}]},"mark":{"type":"point","opacity":0,"size":0},"encoding":{}},
{"width":1,"height":9,"data":{"values":[{}]},"mark":{"type":"point","opacity":0,"size":0},"encoding":{}},
{"hconcat":[
{"width":298,"height":1,"data":{"values":[{}]},"mark":{"type":"point","opacity":0,"size":0},"encoding":{}},
{"width":100,"height":110,"encoding":{"x":{"field":"x","type":"quantitative","scale":{"domain":[-1,1]},"axis":null},"y":{"field":"y","type":"quantitative","scale":{"domain":[1.04,-1.16]},"axis":null}},"layer":[
{"data":{"name":"m5"},"mark":{"type":"point","filled":true,"opacity":1,"clip":true},"encoding":{"size":{"field":"r","type":"quantitative","scale":{"type":"pow","exponent":2,"domain":[0,1],"range":[0,7854]}},"color":{"field":"v","type":"quantitative","scale":{"domain":[0,0.1,0.24,0.4,0.5,0.6,0.7,0.85,1],"range":["#00e5ff","#0090ff","#0a14e6","#8080f0","#ffffff","#ff9090","#f01010","#ff9000","#ffe800"]}}}},
{"data":{"name":"head"},"mark":{"type":"point","shape":"M-1.3,-1.3H1.3V1.3H-1.3ZM0,-0.89A0.78,0.89,0,0,0,0,0.89A0.78,0.89,0,0,0,0,-0.89Z","filled":true,"color":"#ffffff","opacity":1,"size":10000,"clip":true}},
{"data":{"name":"head"},"mark":{"type":"point","shape":"M0,-0.84A0.735,0.84,0,0,1,0,0.84A0.735,0.84,0,0,1,0,-0.84Z","filled":false,"color":"#ffffff","strokeWidth":2.5,"opacity":1,"size":10000}},
{"data":{"name":"head"},"mark":{"type":"point","shape":"M0,-0.81A0.705,0.81,0,0,1,0,0.81A0.705,0.81,0,0,1,0,-0.81ZM0,-0.81V0.81M-0.66,-0.22Q-0.5,0.05,-0.28,0.04Q-0.12,0.06,0,0.2Q0.12,0.06,0.28,0.04Q0.5,0.05,0.66,-0.22","filled":false,"color":"#2a3050","strokeWidth":0.8,"opacity":1,"size":10000}},
{"data":{"name":"head"},"mark":{"type":"point","shape":"M0,-0.8V0.8","filled":false,"color":"#77775a","strokeWidth":4,"opacity":1,"size":10000}},
{"data":{"name":"head"},"mark":{"type":"point","shape":"M0,-0.89A0.78,0.89,0,0,1,0,0.89A0.78,0.89,0,0,1,0,-0.89ZM-0.06,-0.89L0,-0.97L0.06,-0.89M-0.76,-0.06Q-0.84,0.04,-0.95,0.08Q-0.84,0.07,-0.75,0.06M0.76,-0.06Q0.84,0.04,0.95,0.08Q0.84,0.07,0.75,0.06","filled":false,"color":"#14206e","strokeWidth":3.2,"opacity":1,"size":10000}}
]},
{"width":24,"height":1,"data":{"values":[{}]},"mark":{"type":"point","opacity":0,"size":0},"encoding":{}},
{"width":100,"height":110,"encoding":{"x":{"field":"x","type":"quantitative","scale":{"domain":[-1,1]},"axis":null},"y":{"field":"y","type":"quantitative","scale":{"domain":[1.04,-1.16]},"axis":null}},"layer":[
{"data":{"name":"m6"},"mark":{"type":"point","filled":true,"opacity":1,"clip":true},"encoding":{"size":{"field":"r","type":"quantitative","scale":{"type":"pow","exponent":2,"domain":[0,1],"range":[0,7854]}},"color":{"field":"v","type":"quantitative","scale":{"domain":[0,0.1,0.24,0.4,0.5,0.6,0.7,0.85,1],"range":["#00e5ff","#0090ff","#0a14e6","#8080f0","#ffffff","#ff9090","#f01010","#ff9000","#ffe800"]}}}},
{"data":{"name":"head"},"mark":{"type":"point","shape":"M-1.3,-1.3H1.3V1.3H-1.3ZM0,-0.89A0.78,0.89,0,0,0,0,0.89A0.78,0.89,0,0,0,0,-0.89Z","filled":true,"color":"#ffffff","opacity":1,"size":10000,"clip":true}},
{"data":{"name":"head"},"mark":{"type":"point","shape":"M0,-0.84A0.735,0.84,0,0,1,0,0.84A0.735,0.84,0,0,1,0,-0.84Z","filled":false,"color":"#ffffff","strokeWidth":2.5,"opacity":1,"size":10000}},
{"data":{"name":"head"},"mark":{"type":"point","shape":"M0,-0.81A0.705,0.81,0,0,1,0,0.81A0.705,0.81,0,0,1,0,-0.81ZM0,-0.81V0.81M-0.66,-0.22Q-0.5,0.05,-0.28,0.04Q-0.12,0.06,0,0.2Q0.12,0.06,0.28,0.04Q0.5,0.05,0.66,-0.22","filled":false,"color":"#2a3050","strokeWidth":0.8,"opacity":1,"size":10000}},
{"data":{"name":"head"},"mark":{"type":"point","shape":"M0,-0.8V0.8","filled":false,"color":"#77775a","strokeWidth":3,"opacity":1,"size":10000}},
{"data":{"name":"head"},"mark":{"type":"point","shape":"M0,-0.89A0.78,0.89,0,0,1,0,0.89A0.78,0.89,0,0,1,0,-0.89ZM-0.06,-0.89L0,-0.97L0.06,-0.89M-0.76,-0.06Q-0.84,0.04,-0.95,0.08Q-0.84,0.07,-0.75,0.06M0.76,-0.06Q0.84,0.04,0.95,0.08Q0.84,0.07,0.75,0.06","filled":false,"color":"#14206e","strokeWidth":3.2,"opacity":1,"size":10000}}
]},
{"width":24,"height":1,"data":{"values":[{}]},"mark":{"type":"point","opacity":0,"size":0},"encoding":{}},
{"width":45,"height":110,"encoding":{"y":{"field":"a","type":"quantitative","scale":{"domain":[-0.08,1.03]},"axis":null},"x":{"datum":0,"type":"quantitative","scale":{"domain":[0,2.5]},"axis":null}},"layer":[
{"data":{"name":"bar"},"mark":{"type":"rect"},"encoding":{"x2":{"datum":1},"y2":{"field":"b"},"color":{"field":"a","type":"quantitative","scale":{"domain":[0,0.1,0.24,0.4,0.5,0.6,0.7,0.85,1],"range":["#00e5ff","#0090ff","#0a14e6","#8080f0","#ffffff","#ff9090","#f01010","#ff9000","#ffe800"]}}}},
{"data":{"values":[{"a":0,"b":1}]},"mark":{"type":"rect","filled":false,"stroke":"#444","strokeWidth":1.2},"encoding":{"x2":{"datum":1},"y2":{"field":"b"}}},
{"data":{"values":[{"lab":"3.28","a":0.92},{"lab":"0.00","a":0.08}]},"mark":{"type":"text","align":"left","baseline":"middle","fontSize":12,"color":"#333"},"encoding":{"x":{"datum":1.1,"type":"quantitative"},"text":{"field":"lab"}}}
]},
{"width":71,"height":1,"data":{"values":[{}]},"mark":{"type":"point","opacity":0,"size":0},"encoding":{}},
{"width":100,"height":110,"encoding":{"x":{"field":"x","type":"quantitative","scale":{"domain":[-1,1]},"axis":null},"y":{"field":"y","type":"quantitative","scale":{"domain":[1.04,-1.16]},"axis":null}},"layer":[
{"data":{"name":"m7"},"mark":{"type":"point","filled":true,"opacity":1,"clip":true},"encoding":{"size":{"field":"r","type":"quantitative","scale":{"type":"pow","exponent":2,"domain":[0,1],"range":[0,7854]}},"color":{"field":"v","type":"quantitative","scale":{"domain":[0,0.1,0.24,0.4,0.5,0.6,0.7,0.85,1],"range":["#00e5ff","#0090ff","#0a14e6","#8080f0","#ffffff","#ff9090","#f01010","#ff9000","#ffe800"]}}}},
{"data":{"name":"head"},"mark":{"type":"point","shape":"M-1.3,-1.3H1.3V1.3H-1.3ZM0,-0.89A0.78,0.89,0,0,0,0,0.89A0.78,0.89,0,0,0,0,-0.89Z","filled":true,"color":"#ffffff","opacity":1,"size":10000,"clip":true}},
{"data":{"name":"head"},"mark":{"type":"point","shape":"M0,-0.84A0.735,0.84,0,0,1,0,0.84A0.735,0.84,0,0,1,0,-0.84Z","filled":false,"color":"#ffffff","strokeWidth":2.5,"opacity":1,"size":10000}},
{"data":{"name":"head"},"mark":{"type":"point","shape":"M0,-0.81A0.705,0.81,0,0,1,0,0.81A0.705,0.81,0,0,1,0,-0.81ZM0,-0.81V0.81M-0.66,-0.22Q-0.5,0.05,-0.28,0.04Q-0.12,0.06,0,0.2Q0.12,0.06,0.28,0.04Q0.5,0.05,0.66,-0.22","filled":false,"color":"#2a3050","strokeWidth":0.8,"opacity":1,"size":10000}},
{"data":{"name":"head"},"mark":{"type":"point","shape":"M0,-0.8V0.8","filled":false,"color":"#77775a","strokeWidth":2.5,"opacity":1,"size":10000}},
{"data":{"name":"head"},"mark":{"type":"point","shape":"M0,-0.89A0.78,0.89,0,0,1,0,0.89A0.78,0.89,0,0,1,0,-0.89ZM-0.06,-0.89L0,-0.97L0.06,-0.89M-0.76,-0.06Q-0.84,0.04,-0.95,0.08Q-0.84,0.07,-0.75,0.06M0.76,-0.06Q0.84,0.04,0.95,0.08Q0.84,0.07,0.75,0.06","filled":false,"color":"#14206e","strokeWidth":3.2,"opacity":1,"size":10000}}
]},
{"width":25,"height":1,"data":{"values":[{}]},"mark":{"type":"point","opacity":0,"size":0},"encoding":{}},
{"width":45,"height":110,"encoding":{"y":{"field":"a","type":"quantitative","scale":{"domain":[-0.07,1.02]},"axis":null},"x":{"datum":0,"type":"quantitative","scale":{"domain":[0,2.5]},"axis":null}},"layer":[
{"data":{"name":"bar"},"mark":{"type":"rect"},"encoding":{"x2":{"datum":1},"y2":{"field":"b"},"color":{"field":"a","type":"quantitative","scale":{"domain":[0,0.1,0.24,0.4,0.5,0.6,0.7,0.85,1],"range":["#00e5ff","#0090ff","#0a14e6","#8080f0","#ffffff","#ff9090","#f01010","#ff9000","#ffe800"]}}}},
{"data":{"values":[{"a":0,"b":1}]},"mark":{"type":"rect","filled":false,"stroke":"#444","strokeWidth":1.2},"encoding":{"x2":{"datum":1},"y2":{"field":"b"}}},
{"data":{"values":[{"lab":"3.28","a":0.92},{"lab":"0.00","a":0.08}]},"mark":{"type":"text","align":"left","baseline":"middle","fontSize":12,"color":"#333"},"encoding":{"x":{"datum":1.1,"type":"quantitative"},"text":{"field":"lab"}}}
]}
],"spacing":0,"bounds":"flush","resolve":{"scale":{"size":"independent","color":"independent"}}},
{"hconcat":[
{"width":308,"height":1,"data":{"values":[{}]},"mark":{"type":"point","opacity":0,"size":0},"encoding":{}},
{"width":270,"height":87,"view":{"stroke":"#444","strokeWidth":2},"title":{"text":"Fp2-AVR","fontSize":12,"fontWeight":"normal","color":"#5555dd","dx":-15,"offset":5},"data":{"name":"p4"},"encoding":{"x":{"field":"hz","type":"quantitative","scale":{"domain":[0.43,19.38],"nice":false,"zero":false},"axis":{"title":["Frecuencia:1.95, F: 14.53","Frecuencia:3.12, F: 21.31"],"values":[0.78,2.4,4.2,5.76,7.64,9.19,11.07,13.4,15.7,18,19.14],"labelExpr":"datum.value==0.78?'0.78':datum.value==19.14?'19.14':''","gridDash":[3,3],"gridColor":"#888","gridOpacity":{"condition":{"test":"datum.value>19","value":0},"value":1},"labelAlign":{"condition":{"test":"datum.value<5","value":"left"},"value":"right"},"labelOffset":{"condition":{"test":"datum.value<5","value":-7},"value":5},"labelPadding":6,"titlePadding":1}},"y":{"field":"val","type":"quantitative","scale":{"domain":[0,27],"nice":false,"zero":false},"axis":{"title":"Valor F","titlePadding":16,"values":[0,5,10,15,20,25],"gridColor":{"condition":{"test":"datum.value==0","value":"#000"},"value":"#888"}}}},"layer":[
{"mark":{"type":"line","color":"#444","strokeWidth":1.4}},
{"transform":[{"window":[{"op":"lead","field":"hz","as":"hz2"},{"op":"lead","field":"val","as":"val2"}],"sort":[{"field":"hz","order":"ascending"}]},{"filter":"datum.hz2!=null&&!datum.n&&(datum.val>=4.1||datum.val2>=4.1)"}],"mark":{"type":"rule","color":"#f03040","strokeWidth":1.6},"encoding":{"x2":{"field":"hz2"},"y2":{"field":"val2"}}},
{"data":{"values":[{"hz":0.78,"to":19.14,"val":4.1}]},"mark":{"type":"rule","color":"#e04848","strokeWidth":2},"encoding":{"x2":{"field":"to"}}},
{"data":{"values":[{"hz":1.6,"val":0,"top":27}]},"mark":{"type":"rule","color":"#2e6fb5","strokeWidth":3},"encoding":{"y2":{"field":"top"}}},
{"data":{"values":[{"hz":3.0,"val":0,"top":27}]},"mark":{"type":"rule","color":"#7a7ae0","strokeWidth":1.2},"encoding":{"y2":{"field":"top"}}}
]},
{"width":50,"height":1,"data":{"values":[{}]},"mark":{"type":"point","opacity":0,"size":0},"encoding":{}},
{"width":277,"height":88,"view":{"stroke":"#444","strokeWidth":2},"title":{"text":"C3 -AVR","fontSize":12,"fontWeight":"normal","color":"#5555dd","dx":-16,"offset":5},"data":{"name":"p5"},"encoding":{"x":{"field":"hz","type":"quantitative","scale":{"domain":[0.51,19.37],"nice":false,"zero":false},"axis":{"title":"Frecuencia:8.59, F: 25.94","values":[0.78,2.4,4.2,5.76,7.64,9.19,11.07,13.4,15.7,18,19.14],"labelExpr":"datum.value==0.78?'0.78':datum.value==19.14?'19.14':''","gridDash":[3,3],"gridColor":"#888","gridOpacity":{"condition":{"test":"datum.value>19","value":0},"value":1},"labelAlign":{"condition":{"test":"datum.value<5","value":"left"},"value":"right"},"labelOffset":{"condition":{"test":"datum.value<5","value":-7},"value":5},"labelPadding":6,"titlePadding":11}},"y":{"field":"val","type":"quantitative","scale":{"domain":[0,27.2],"nice":false,"zero":false},"axis":{"title":null,"values":[0,5,10,15,20,25],"gridColor":{"condition":{"test":"datum.value==0","value":"#000"},"value":"#888"}}}},"layer":[
{"mark":{"type":"line","color":"#444","strokeWidth":1.4}},
{"transform":[{"window":[{"op":"lead","field":"hz","as":"hz2"},{"op":"lead","field":"val","as":"val2"}],"sort":[{"field":"hz","order":"ascending"}]},{"filter":"datum.hz2!=null&&!datum.n&&(datum.val>=4.3||datum.val2>=4.3)"}],"mark":{"type":"rule","color":"#f03040","strokeWidth":1.6},"encoding":{"x2":{"field":"hz2"},"y2":{"field":"val2"}}},
{"data":{"values":[{"hz":0.78,"to":19.14,"val":4.3}]},"mark":{"type":"rule","color":"#e04848","strokeWidth":2},"encoding":{"x2":{"field":"to"}}},
{"data":{"values":[{"hz":8.46,"val":0,"top":27.2}]},"mark":{"type":"rule","color":"#8080e0","strokeWidth":2.5},"encoding":{"y2":{"field":"top"}}}
]}
],"spacing":0,"bounds":"flush"},
{"width":1,"height":55,"data":{"values":[{}]},"mark":{"type":"point","opacity":0,"size":0},"encoding":{}},
{"width":1030,"height":1,"title":{"text":"Grupo X Condición(nivel umbral F= 3.28, p≤0.05)","anchor":"start","fontSize":27,"fontWeight":"normal","dx":10,"offset":0},"data":{"values":[{}]},"mark":{"type":"point","opacity":0,"size":0},"encoding":{}},
{"width":1,"height":13,"data":{"values":[{}]},"mark":{"type":"point","opacity":0,"size":0},"encoding":{}},
{"hconcat":[
{"width":331,"height":1,"data":{"values":[{}]},"mark":{"type":"point","opacity":0,"size":0},"encoding":{}},
{"width":112,"height":116,"encoding":{"x":{"field":"x","type":"quantitative","scale":{"domain":[-1,1]},"axis":null},"y":{"field":"y","type":"quantitative","scale":{"domain":[1,-1.071]},"axis":null}},"layer":[
{"data":{"name":"m8"},"mark":{"type":"point","filled":true,"opacity":1,"clip":true},"encoding":{"size":{"field":"r","type":"quantitative","scale":{"type":"pow","exponent":2,"domain":[0,1],"range":[0,9852]}},"color":{"field":"v","type":"quantitative","scale":{"domain":[0,0.1,0.24,0.4,0.5,0.6,0.7,0.85,1],"range":["#00e5ff","#0090ff","#0a14e6","#8080f0","#ffffff","#ff9090","#f01010","#ff9000","#ffe800"]}}}},
{"data":{"name":"head"},"mark":{"type":"point","shape":"M-1.3,-1.3H1.3V1.3H-1.3ZM0,-0.89A0.78,0.89,0,0,0,0,0.89A0.78,0.89,0,0,0,0,-0.89Z","filled":true,"color":"#ffffff","opacity":1,"size":12544,"clip":true}},
{"data":{"name":"head"},"mark":{"type":"point","shape":"M0,-0.84A0.735,0.84,0,0,1,0,0.84A0.735,0.84,0,0,1,0,-0.84Z","filled":false,"color":"#ffffff","strokeWidth":2.5,"opacity":1,"size":12544}},
{"data":{"name":"head"},"mark":{"type":"point","shape":"M0,-0.81A0.705,0.81,0,0,1,0,0.81A0.705,0.81,0,0,1,0,-0.81ZM0,-0.81V0.81M-0.66,-0.22Q-0.5,0.05,-0.28,0.04Q-0.12,0.06,0,0.2Q0.12,0.06,0.28,0.04Q0.5,0.05,0.66,-0.22","filled":false,"color":"#2a3050","strokeWidth":0.8,"opacity":1,"size":12544}},
{"data":{"name":"head"},"mark":{"type":"point","shape":"M0,-0.89A0.78,0.89,0,0,1,0,0.89A0.78,0.89,0,0,1,0,-0.89ZM-0.06,-0.89L0,-0.97L0.06,-0.89M-0.76,-0.06Q-0.84,0.04,-0.95,0.08Q-0.84,0.07,-0.75,0.06M0.76,-0.06Q0.84,0.04,0.95,0.08Q0.84,0.07,0.75,0.06","filled":false,"color":"#14206e","strokeWidth":3.2,"opacity":1,"size":12544}}
]},
{"width":24,"height":1,"data":{"values":[{}]},"mark":{"type":"point","opacity":0,"size":0},"encoding":{}},
{"width":50,"height":116,"encoding":{"y":{"field":"a","type":"quantitative","scale":{"domain":[-0.065,1.019]},"axis":null},"x":{"datum":0,"type":"quantitative","scale":{"domain":[0,2.5]},"axis":null}},"layer":[
{"data":{"name":"bar"},"mark":{"type":"rect"},"encoding":{"x2":{"datum":1},"y2":{"field":"b"},"color":{"field":"a","type":"quantitative","scale":{"domain":[0,0.1,0.24,0.4,0.5,0.6,0.7,0.85,1],"range":["#00e5ff","#0090ff","#0a14e6","#8080f0","#ffffff","#ff9090","#f01010","#ff9000","#ffe800"]}}}},
{"data":{"values":[{"a":0,"b":1}]},"mark":{"type":"rect","filled":false,"stroke":"#444","strokeWidth":1.2},"encoding":{"x2":{"datum":1},"y2":{"field":"b"}}},
{"data":{"values":[{"lab":"3.28","a":0.92},{"lab":"0.00","a":0.08}]},"mark":{"type":"text","align":"left","baseline":"middle","fontSize":12,"color":"#333"},"encoding":{"x":{"datum":1.1,"type":"quantitative"},"text":{"field":"lab"}}}
]},
{"width":104,"height":1,"data":{"values":[{}]},"mark":{"type":"point","opacity":0,"size":0},"encoding":{}},
{"width":106,"height":116,"encoding":{"x":{"field":"x","type":"quantitative","scale":{"domain":[-1,1]},"axis":null},"y":{"field":"y","type":"quantitative","scale":{"domain":[0.943,-1.245]},"axis":null}},"layer":[
{"data":{"name":"m9"},"mark":{"type":"point","filled":true,"opacity":1,"clip":true},"encoding":{"size":{"field":"r","type":"quantitative","scale":{"type":"pow","exponent":2,"domain":[0,1],"range":[0,8825]}},"color":{"field":"v","type":"quantitative","scale":{"domain":[0,0.1,0.24,0.4,0.5,0.6,0.7,0.85,1],"range":["#00e5ff","#0090ff","#0a14e6","#8080f0","#ffffff","#ff9090","#f01010","#ff9000","#ffe800"]}}}},
{"data":{"name":"head"},"mark":{"type":"point","shape":"M-1.3,-1.3H1.3V1.3H-1.3ZM0,-0.89A0.78,0.89,0,0,0,0,0.89A0.78,0.89,0,0,0,0,-0.89Z","filled":true,"color":"#ffffff","opacity":1,"size":11236,"clip":true}},
{"data":{"name":"head"},"mark":{"type":"point","shape":"M0,-0.84A0.735,0.84,0,0,1,0,0.84A0.735,0.84,0,0,1,0,-0.84Z","filled":false,"color":"#ffffff","strokeWidth":2.5,"opacity":1,"size":11236}},
{"data":{"name":"head"},"mark":{"type":"point","shape":"M0,-0.81A0.705,0.81,0,0,1,0,0.81A0.705,0.81,0,0,1,0,-0.81ZM0,-0.81V0.81M-0.66,-0.22Q-0.5,0.05,-0.28,0.04Q-0.12,0.06,0,0.2Q0.12,0.06,0.28,0.04Q0.5,0.05,0.66,-0.22","filled":false,"color":"#2a3050","strokeWidth":0.8,"opacity":1,"size":11236}},
{"data":{"name":"head"},"mark":{"type":"point","shape":"M0,-0.89A0.78,0.89,0,0,1,0,0.89A0.78,0.89,0,0,1,0,-0.89ZM-0.06,-0.89L0,-0.97L0.06,-0.89M-0.76,-0.06Q-0.84,0.04,-0.95,0.08Q-0.84,0.07,-0.75,0.06M0.76,-0.06Q0.84,0.04,0.95,0.08Q0.84,0.07,0.75,0.06","filled":false,"color":"#14206e","strokeWidth":3.2,"opacity":1,"size":11236}}
]},
{"width":23,"height":1,"data":{"values":[{}]},"mark":{"type":"point","opacity":0,"size":0},"encoding":{}},
{"width":45,"height":116,"encoding":{"y":{"field":"a","type":"quantitative","scale":{"domain":[-0.07,1.09]},"axis":null},"x":{"datum":0,"type":"quantitative","scale":{"domain":[0,2.65]},"axis":null}},"layer":[
{"data":{"name":"bar"},"mark":{"type":"rect"},"encoding":{"x2":{"datum":1},"y2":{"field":"b"},"color":{"field":"a","type":"quantitative","scale":{"domain":[0,0.1,0.24,0.4,0.5,0.6,0.7,0.85,1],"range":["#00e5ff","#0090ff","#0a14e6","#8080f0","#ffffff","#ff9090","#f01010","#ff9000","#ffe800"]}}}},
{"data":{"values":[{"a":0,"b":1}]},"mark":{"type":"rect","filled":false,"stroke":"#444","strokeWidth":1.2},"encoding":{"x2":{"datum":1},"y2":{"field":"b"}}},
{"data":{"values":[{"lab":"3.28","a":0.92},{"lab":"0.00","a":0.08}]},"mark":{"type":"text","align":"left","baseline":"middle","fontSize":12,"color":"#333"},"encoding":{"x":{"datum":1.1,"type":"quantitative"},"text":{"field":"lab"}}}
]}
],"spacing":0,"bounds":"flush","resolve":{"scale":{"size":"independent","color":"independent"}}},
{"width":1,"height":5,"data":{"values":[{}]},"mark":{"type":"point","opacity":0,"size":0},"encoding":{}},
{"hconcat":[
{"width":265,"height":1,"data":{"values":[{}]},"mark":{"type":"point","opacity":0,"size":0},"encoding":{}},
{"width":280,"height":86,"view":{"stroke":"#444","strokeWidth":2},"title":{"text":"T6 -AVR","fontSize":12,"fontWeight":"normal","color":"#5555dd","dx":-13,"offset":5},"data":{"name":"p6"},"encoding":{"x":{"field":"hz","type":"quantitative","scale":{"domain":[0.39,19.43],"nice":false,"zero":false},"axis":{"title":"Frecuencia:1.95, F: 3.81","values":[0.78,2.4,4.2,5.76,7.64,9.19,11.07,13.4,15.7,18,19.14],"labelExpr":"datum.value==0.78?'0.78':datum.value==19.14?'19.14':''","gridDash":[3,3],"gridColor":"#888","gridOpacity":{"condition":{"test":"datum.value>19","value":0},"value":1},"labelAlign":{"condition":{"test":"datum.value<5","value":"left"},"value":"right"},"labelOffset":{"condition":{"test":"datum.value<5","value":-7},"value":5},"labelPadding":6,"titlePadding":10}},"y":{"field":"val","type":"quantitative","scale":{"domain":[-0.15,4.6],"nice":false,"zero":false},"axis":{"title":"Valor F","titlePadding":19,"values":[0,1,2,3,4],"gridColor":{"condition":{"test":"datum.value==0","value":"#000"},"value":"#888"}}}},"layer":[
{"mark":{"type":"line","color":"#444","strokeWidth":1.4}},
{"data":{"values":[{"hz":0.78,"to":19.14,"val":4.44}]},"mark":{"type":"rule","color":"#e86060","strokeWidth":2},"encoding":{"x2":{"field":"to"}}},
{"data":{"values":[{"hz":1.91,"val":-0.15,"top":4.6}]},"mark":{"type":"rule","color":"#4a4ac6","strokeWidth":2},"encoding":{"y2":{"field":"top"}}},
{"data":{"values":[{"hz":1.91,"val":3.81}]},"mark":{"type":"point","filled":true,"color":"#f0e040","opacity":1,"size":14}}
]},
{"width":37,"height":1,"data":{"values":[{}]},"mark":{"type":"point","opacity":0,"size":0},"encoding":{}},
{"width":280,"height":87,"view":{"stroke":"#444","strokeWidth":2},"title":{"text":"F8 -AVR","fontSize":12,"fontWeight":"normal","color":"#5555dd","dx":-14,"offset":5},"data":{"name":"p7"},"encoding":{"x":{"field":"hz","type":"quantitative","scale":{"domain":[0.33,19.37],"nice":false,"zero":false},"axis":{"title":"Frecuencia:7.03, F: 4.33","values":[0.78,2.4,4.2,5.76,7.64,9.19,11.07,13.4,15.7,18,19.14],"labelExpr":"datum.value==0.78?'0.78':datum.value==19.14?'19.14':''","gridDash":[3,3],"gridColor":"#888","gridOpacity":{"condition":{"test":"datum.value>19","value":0},"value":1},"labelAlign":{"condition":{"test":"datum.value<5","value":"left"},"value":"right"},"labelOffset":{"condition":{"test":"datum.value<5","value":-7},"value":5},"labelPadding":8,"titlePadding":7}},"y":{"field":"val","type":"quantitative","scale":{"domain":[-0.15,4.63],"nice":false,"zero":false},"axis":{"title":null,"values":[0,1,2,3,4],"gridColor":{"condition":{"test":"datum.value==0","value":"#000"},"value":"#888"}}}},"layer":[
{"mark":{"type":"line","color":"#444","strokeWidth":1.4}},
{"data":{"values":[{"hz":0.78,"to":19.14,"val":4.4}]},"mark":{"type":"rule","color":"#e86060","strokeWidth":2},"encoding":{"x2":{"field":"to"}}},
{"data":{"values":[{"hz":6.83,"val":-0.15,"top":4.63}]},"mark":{"type":"rule","color":"#3a3ad6","strokeWidth":1,"strokeDash":[3,2]},"encoding":{"y2":{"field":"top"}}}
]}
],"spacing":0,"bounds":"flush"}
]}
